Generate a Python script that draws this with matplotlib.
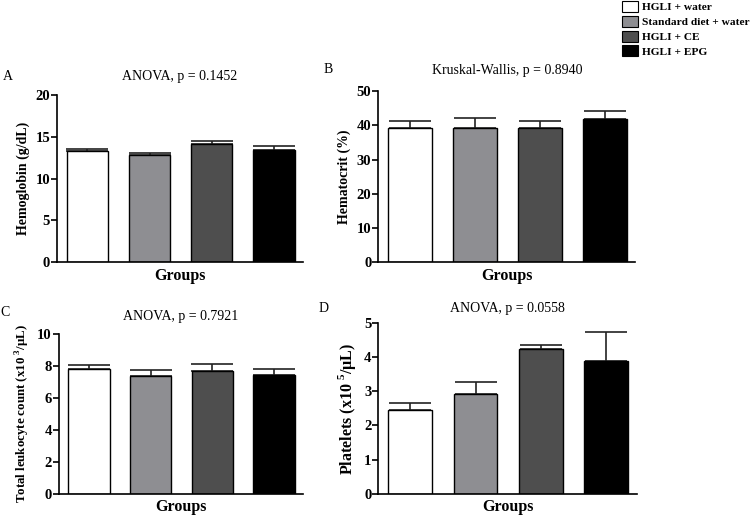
import matplotlib
matplotlib.use("Agg")
import matplotlib.pyplot as plt
from matplotlib.patches import Patch

plt.rcParams['font.family'] = ['Liberation Serif', 'DejaVu Serif']
plt.rcParams['mathtext.fontset'] = 'custom'
plt.rcParams['mathtext.rm'] = 'Liberation Serif:bold'
plt.rcParams['mathtext.bf'] = 'Liberation Serif:bold'

# groups and colours
groups = ['HGLI + water', 'Standard diet + water', 'HGLI + CE', 'HGLI + EPG']
colors = ['#ffffff', '#8e8e92', '#4e4e4e', '#000000']

# means and upper error (SEM)
hemoglobin = [13.3, 12.9, 14.2, 13.4]
hemoglobin_err = [0.3, 0.2, 0.3, 0.5]
hematocrit = [39.3, 39.3, 39.2, 41.8]
hematocrit_err = [2.1, 2.9, 2.2, 2.4]
leukocytes = [7.77, 7.35, 7.69, 7.42]
leukocytes_err = [0.27, 0.40, 0.41, 0.37]
platelets = [2.46, 2.92, 4.23, 3.90]
platelets_err = [0.19, 0.36, 0.13, 0.83]

panels = [
    # letter, letter pos (px), title, title pad, ylabel, ylabel size, values, errors, ymax, ystep, axes rect
    ('A', (3, 77), 'ANOVA, p = 0.1452', 11, 'Hemoglobin (g/dL)', 10, hemoglobin, hemoglobin_err,
     20, 5, [0.0758, 0.491, 0.327, 0.324]),
    ('B', (324, 70), 'Kruskal-Wallis, p = 0.8940', 12, 'Hematocrit (%)', 10, hematocrit, hematocrit_err,
     50, 10, [0.503, 0.491, 0.342, 0.332]),
    ('C', (0, 313), 'ANOVA, p = 0.7921', 10, 'Total leukocyte count (x10 $^{3}$/µL)', 9.3,
     leukocytes, leukocytes_err, 10, 2, [0.078, 0.041, 0.325, 0.311]),
    ('D', (319, 308), 'ANOVA, p = 0.0558', 8, 'Platelets (x10 $^{5}$/µL)', 11.5,
     platelets, platelets_err, 5, 1, [0.503, 0.041, 0.344, 0.332]),
]

fig = plt.figure(figsize=(7.52, 5.15), dpi=100)
W, H = 752, 515

x = list(range(len(groups)))
for letter, lpos, title, tpad, ylabel, ysize, vals, errs, ymax, ystep, rect in panels:
    ax = fig.add_axes(rect)
    ax.bar(x, vals, width=0.67, color=colors, edgecolor='black', linewidth=1.0, zorder=2)
    ax.errorbar(x, vals, yerr=[[0] * len(vals), errs], fmt='none', ecolor='#222222',
                elinewidth=1.2, capsize=15, capthick=1.2, zorder=1)
    ax.set_xlim(-0.49, 3.47)
    ax.set_ylim(0, ymax)
    ax.set_yticks(range(0, ymax + 1, ystep))
    ax.set_xticks([])
    ax.spines['top'].set_visible(False)
    ax.spines['right'].set_visible(False)
    ax.spines['left'].set_linewidth(1.2)
    ax.spines['bottom'].set_linewidth(1.2)
    ax.tick_params(axis='y', direction='out', length=4, width=1.2, pad=1, labelsize=10.5)
    for lbl in ax.get_yticklabels():
        lbl.set_fontweight('bold')
    ax.set_ylabel(ylabel, fontsize=ysize, fontweight='bold', labelpad=4)
    ax.set_xlabel('Groups', fontsize=11.5, fontweight='bold', labelpad=4)
    ax.set_title(title, fontsize=10, pad=tpad)
    fig.text(lpos[0] / W, 1 - lpos[1] / H, letter, fontsize=10, ha='left', va='center')

handles = [Patch(facecolor=c, edgecolor='black', linewidth=0.8) for c in colors]
leg = fig.legend(handles, groups, loc='upper left', bbox_to_anchor=(0.826, 1.0),
                 frameon=False, prop={'weight': 'bold', 'size': 8.2},
                 handlelength=1.4, handleheight=1.1, handletextpad=0.3, labelspacing=0.3,
                 borderaxespad=0.0, borderpad=0.1)

fig.savefig('out.png', dpi=100)
